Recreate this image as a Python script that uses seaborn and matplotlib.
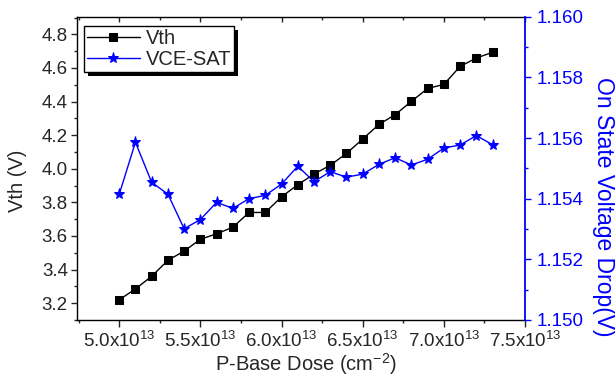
import matplotlib
matplotlib.use("Agg")
import matplotlib.pyplot as plt
import seaborn as sns
import pandas as pd
from matplotlib.ticker import MultipleLocator, FuncFormatter
from matplotlib.patches import Rectangle

# ---- data ----
dose = [5.0e13, 5.1e13, 5.2e13, 5.3e13, 5.4e13, 5.5e13, 5.6e13, 5.7e13,
        5.8e13, 5.9e13, 6.0e13, 6.1e13, 6.2e13, 6.3e13, 6.4e13, 6.5e13,
        6.6e13, 6.7e13, 6.8e13, 6.9e13, 7.0e13, 7.1e13, 7.2e13, 7.3e13]
vth = [3.22, 3.285, 3.36, 3.455, 3.51, 3.58, 3.613, 3.652,
       3.74, 3.74, 3.833, 3.905, 3.968, 4.021, 4.091, 4.177,
       4.264, 4.322, 4.401, 4.478, 4.502, 4.609, 4.659, 4.693]
vce_sat = [1.15414, 1.15586, 1.15454, 1.15415, 1.15301, 1.15331, 1.15388, 1.15368,
           1.15400, 1.15411, 1.15448, 1.15507, 1.15456, 1.15489, 1.15471, 1.15481,
           1.15513, 1.15535, 1.15511, 1.15530, 1.15567, 1.15577, 1.15608, 1.15578]
series_names = ["Vth", "VCE-SAT"]
x_label = "P-Base Dose (cm$^{-2}$)"
y_label_left = "Vth (V)"
y_label_right = "On State Voltage Drop(V)"

df = pd.DataFrame({"dose": dose, "vth": vth, "vce": vce_sat})

sns.set_style("ticks")
plt.rcParams["font.family"] = ["Liberation Sans", "DejaVu Sans"]
plt.rcParams["mathtext.fontset"] = "custom"
plt.rcParams["mathtext.rm"] = "Liberation Sans"
plt.rcParams["mathtext.it"] = "Liberation Sans:italic"
plt.rcParams["mathtext.default"] = "regular"

BLUE = "#0000FF"
fig = plt.figure(figsize=(6.15, 3.77), dpi=100)
ax = fig.add_axes([0.1257, 0.1512, 0.8537 - 0.1257, 0.9557 - 0.1512])
ax2 = ax.twinx()

sns.lineplot(data=df, x="dose", y="vth", ax=ax, color="black", lw=1.0,
             marker="s", markersize=5.3, markeredgecolor="black",
             markerfacecolor="black", label=series_names[0], legend=False)
sns.lineplot(data=df, x="dose", y="vce", ax=ax2, color=BLUE, lw=1.0,
             marker="*", markersize=8, markeredgecolor=BLUE,
             markerfacecolor=BLUE, label=series_names[1], legend=False)

ax.set_xlim(4.742e13, 7.5e13)
ax.set_ylim(3.1, 4.905)
ax2.set_ylim(1.150, 1.160)

ax.xaxis.set_major_locator(MultipleLocator(0.5e13))
ax.xaxis.set_minor_locator(MultipleLocator(0.25e13))
ax.xaxis.set_major_formatter(FuncFormatter(lambda v, p: f"{v/1e13:.1f}x10$^{{13}}$"))
ax.yaxis.set_major_locator(MultipleLocator(0.2))
ax.yaxis.set_minor_locator(MultipleLocator(0.1))
ax.yaxis.set_major_formatter(FuncFormatter(lambda v, p: f"{v:.1f}"))
ax2.yaxis.set_major_locator(MultipleLocator(0.002))
ax2.yaxis.set_minor_locator(MultipleLocator(0.001))
ax2.yaxis.set_major_formatter(FuncFormatter(lambda v, p: f"{v:.3f}"))

# ticks
ax.tick_params(axis="x", which="major", direction="out", length=5, width=1,
               labelsize=13.5, pad=2.5, top=False)
ax.tick_params(axis="x", which="minor", direction="out", length=2.5, width=1, top=False)
ax.tick_params(axis="y", which="major", direction="out", length=4.3, width=1,
               labelsize=13.5, pad=2.5, right=False)
ax.tick_params(axis="y", which="minor", direction="out", length=2.2, width=1, right=False)
ax2.tick_params(axis="y", which="major", direction="out", length=4.5, width=1,
                labelsize=13.5, pad=4, colors=BLUE)
ax2.tick_params(axis="y", which="minor", direction="out", length=2.5, width=1, colors=BLUE)

# top inward ticks via secondary axis
top = ax.secondary_xaxis("top")
top.xaxis.set_major_locator(MultipleLocator(0.5e13))
top.xaxis.set_minor_locator(MultipleLocator(0.25e13))
top.tick_params(axis="x", which="major", direction="in", length=3.5, width=1, labeltop=False)
top.tick_params(axis="x", which="minor", direction="in", length=2.5, width=1)
top.spines["top"].set_visible(False)

for sp in ["left", "bottom", "top"]:
    ax.spines[sp].set_color("black")
    ax.spines[sp].set_linewidth(1.0)
    ax.spines[sp].set_visible(True)
ax.spines["right"].set_visible(False)
for sp in ["left", "bottom", "top"]:
    ax2.spines[sp].set_visible(False)
ax2.spines["right"].set_color(BLUE)
ax2.spines["right"].set_linewidth(1.3)
ax2.spines["right"].set_visible(True)

ax.set_xlabel(x_label, fontsize=14.5)
ax.xaxis.set_label_coords(0.51, -0.104)
ax.set_ylabel(y_label_left, fontsize=14.5)
ax.yaxis.set_label_coords(-0.112, 0.458)
ax2.set_ylabel("")
fig.text(603 / 615, 1 - 207 / 377, y_label_right, rotation=-90, ha="center",
         va="center", fontsize=16.5, color=BLUE)

# legend
h1, l1 = ax.get_legend_handles_labels()
h2, l2 = ax2.get_legend_handles_labels()
leg = ax2.legend(h1 + h2, l1 + l2, loc="upper left",
                 bbox_to_anchor=(0.0156, 0.969), borderaxespad=0,
                 fontsize=14.5, frameon=True, fancybox=False, framealpha=1,
                 edgecolor="black", handlelength=2.6, handletextpad=0.3,
                 borderpad=0.15, labelspacing=0.1, numpoints=1)
leg.get_frame().set_linewidth(1.0)
leg.set_zorder(10)

fig.canvas.draw()
bb = leg.get_window_extent()
shadow = Rectangle((bb.x0 + 4, bb.y0 - 4), bb.width, bb.height, transform=None,
                   facecolor="black", edgecolor="none", zorder=9)
ax2.add_artist(shadow)

fig.savefig("out.png", dpi=100, facecolor="white")
